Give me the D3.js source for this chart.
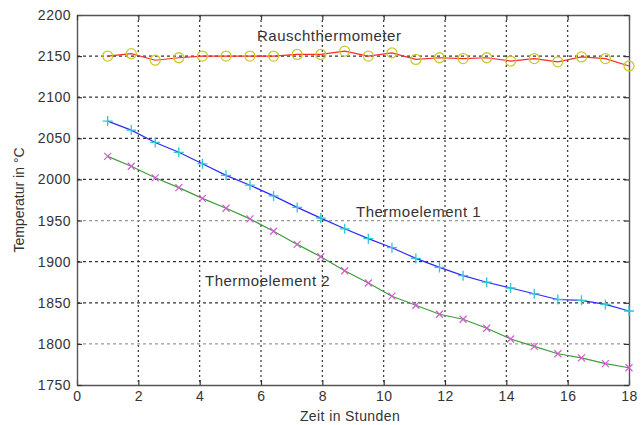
<!DOCTYPE html>
<meta charset="utf-8">
<style>
 body { margin: 0; background: #fff; }
 text { font-family: "Liberation Sans", Arial, sans-serif; fill: #333; }
 .lbl { font-size: 15px; letter-spacing: 0.5px; }
</style>
<body>
<div id="chart"></div>
<script src="https://cdn.jsdelivr.net/npm/d3@7"></script>
<script>
(function(){

  var hours = [1.00, 1.77, 2.55, 3.32, 4.09, 4.86, 5.64, 6.41, 7.18, 7.95, 8.73, 9.50,
               10.27, 11.05, 11.82, 12.59, 13.36, 14.14, 14.91, 15.68, 16.45, 17.23, 18.00];
  var rausch = [2150, 2153, 2145, 2148, 2150, 2150, 2150, 2150, 2152, 2152, 2156, 2150,
                2154, 2146, 2148, 2147, 2148, 2144, 2147, 2143, 2149, 2147, 2138];
  var thermo1 = [2071, 2060, 2045, 2033, 2019, 2005, 1993, 1980, 1966, 1953, 1940, 1928,
                 1917, 1904, 1893, 1883, 1875, 1868, 1861, 1854, 1853, 1848, 1840];
  var thermo2 = [2028, 2016, 2002, 1990, 1977, 1965, 1952, 1937, 1921, 1906, 1889, 1874,
                 1858, 1847, 1836, 1830, 1819, 1806, 1797, 1788, 1783, 1776, 1771];
  var xTicks = [0, 2, 4, 6, 8, 10, 12, 14, 16, 18];
  var yTicks = [1750, 1800, 1850, 1900, 1950, 2000, 2050, 2100, 2150, 2200];

  var width = 641, height = 425;
  var left = 77, right = 629, top = 15, bottom = 385;

  var svg = d3.select("#chart").append("svg")
      .attr("width", width)
      .attr("height", height);

  var x = d3.scaleLinear().domain([0, 18]).range([left, right]);
  var y = d3.scaleLinear().domain([1750, 2200]).range([bottom, top]);

  // labels (drawn first, grid runs over them like in the original)
  svg.append("text").attr("class", "lbl").attr("x", 257).attr("y", 41).text("Rauschthermometer");
  svg.append("text").attr("class", "lbl").attr("x", 356).attr("y", 217).text("Thermoelement 1");
  svg.append("text").attr("class", "lbl").attr("x", 205).attr("y", 286).text("Thermoelement 2");

  // grid
  var grid = svg.append("g");
  grid.selectAll(".gx").data(xTicks.slice(1, -1)).enter().append("line")
      .attr("x1", x).attr("x2", x).attr("y1", top).attr("y2", bottom)
      .attr("stroke", "#333").attr("stroke-width", 1.2).attr("stroke-dasharray", "2,3");
  grid.selectAll(".gy").data(yTicks.slice(1, -1)).enter().append("line")
      .attr("x1", left).attr("x2", right).attr("y1", y).attr("y2", y)
      .attr("stroke", function(d) { return (d === 1950 || d === 1800) ? "#999" : "#333"; })
      .attr("stroke-width", 1.2).attr("stroke-dasharray", "3,3");

  // axes
  svg.append("g").attr("transform", "translate(0," + bottom + ")")
      .call(d3.axisBottom(x).tickValues(xTicks).tickSizeInner(-5).tickSizeOuter(0).tickPadding(6));
  svg.append("g").attr("transform", "translate(" + left + ",0)")
      .call(d3.axisLeft(y).tickValues(yTicks).tickFormat(d3.format("d"))
        .tickSizeInner(-5).tickSizeOuter(0).tickPadding(6));
  svg.append("g").attr("transform", "translate(0," + top + ")")
      .call(d3.axisTop(x).tickValues(xTicks).tickSizeInner(-5).tickSizeOuter(0).tickFormat(""));
  svg.append("g").attr("transform", "translate(" + right + ",0)")
      .call(d3.axisRight(y).tickValues(yTicks).tickSizeInner(-5).tickSizeOuter(0).tickFormat(""));
  svg.selectAll(".domain").attr("stroke", "#555").attr("stroke-width", 1.4);
  svg.selectAll(".tick line").attr("stroke", "#333").attr("stroke-width", 1.2);
  svg.selectAll(".tick text").attr("fill", "#333")
      .style("font-family", "Liberation Sans, Arial, sans-serif")
      .style("font-size", "14px").style("letter-spacing", "0.5px");

  // series
  var line = d3.line().x(function(d) { return x(d[0]); }).y(function(d) { return y(d[1]); });
  function pairs(vals) { return vals.map(function(v, i) { return [hours[i], v]; }); }

  svg.append("path").datum(pairs(rausch)).attr("d", line)
      .attr("fill", "none").attr("stroke", "#ff2a2a").attr("stroke-width", 1.2);
  svg.append("path").datum(pairs(thermo1)).attr("d", line)
      .attr("fill", "none").attr("stroke", "#2a2aff").attr("stroke-width", 1.2);
  svg.append("path").datum(pairs(thermo2)).attr("d", line)
      .attr("fill", "none").attr("stroke", "#3c9c3c").attr("stroke-width", 1.2);

  svg.append("g").selectAll("circle").data(pairs(rausch)).enter().append("circle")
      .attr("cx", function(d) { return x(d[0]); })
      .attr("cy", function(d) { return y(d[1]); })
      .attr("r", 5).attr("fill", "none").attr("stroke", "#c9c92e").attr("stroke-width", 1.3);

  svg.append("g").selectAll("path").data(pairs(thermo1)).enter().append("path")
      .attr("transform", function(d) { return "translate(" + x(d[0]) + "," + y(d[1]) + ")"; })
      .attr("d", "M-5,0H5M0,-5V5")
      .attr("stroke", "#2cc8d4").attr("stroke-width", 1.3);

  svg.append("g").selectAll("path").data(pairs(thermo2)).enter().append("path")
      .attr("transform", function(d) { return "translate(" + x(d[0]) + "," + y(d[1]) + ")"; })
      .attr("d", "M-3.5,-3.5L3.5,3.5M-3.5,3.5L3.5,-3.5")
      .attr("stroke", "#d45ad4").attr("stroke-width", 1.2);

  // axis titles
  svg.append("text").attr("x", 350).attr("y", 421).attr("text-anchor", "middle")
      .style("font-size", "14px").style("letter-spacing", "0.4px").text("Zeit in Stunden");
  svg.append("text").attr("transform", "translate(24,200) rotate(-90)").attr("text-anchor", "middle")
      .style("font-size", "14px").text("Temperatur in °C");

})();
</script>
</body>
